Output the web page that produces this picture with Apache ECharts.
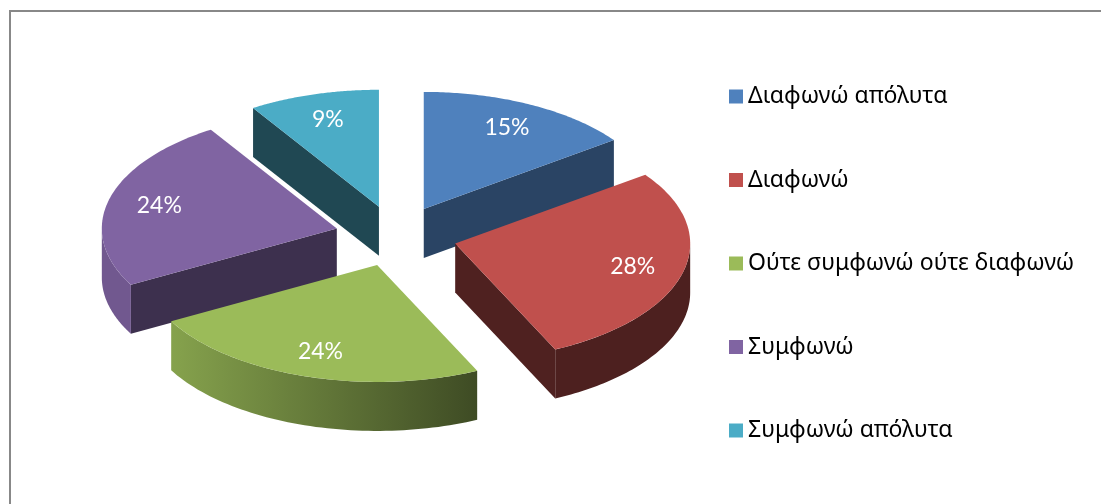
<!DOCTYPE html>
<html>
<head>
<meta charset="utf-8">
<script src="https://cdn.jsdelivr.net/npm/echarts@6/dist/echarts.min.js"></script>
<style>
    html, body { margin: 0; padding: 0; background: #fff; }
    #chart { width: 1101px; height: 504px; }
</style>
</head>
<body>
<div id="chart"></div>
<script>
// ============================
// 1. 数据
// ============================
const categories = ['Διαφωνώ απόλυτα', 'Διαφωνώ', 'Ούτε συμφωνώ ούτε διαφωνώ', 'Συμφωνώ', 'Συμφωνώ απόλυτα'];
const values = [15, 28, 24, 24, 9];
const colors = ['#4F81BD', '#C0504D', '#9BBB59', '#8064A2', '#4BACC6'];
// 切面的暗度
const faceShade = [0.53, 0.41, 0.45, 0.48, 0.42];

// ============================
// 2. 3D 饼图布局
// ============================
const cx = 396, cy = 236;      // 椭圆中心
const rx = 235, ry = 117;      // 顶面半径
const depth = 49;              // 厚度
const explode = 0.26;          // 分离程度
const labelPos = 0.78;
const labelFont = '23px Lato, "Open Sans", sans-serif';

function shade(hex, f) {
    const n = parseInt(hex.slice(1), 16);
    const r = Math.round(((n >> 16) & 255) * f);
    const g = Math.round(((n >> 8) & 255) * f);
    const b = Math.round((n & 255) * f);
    return 'rgb(' + r + ',' + g + ',' + b + ')';
}

const total = values.reduce((a, b) => a + b, 0);
const slices = [];
let acc = 0;
values.forEach((v, i) => {
    const a0 = acc / total * Math.PI * 2;
    acc += v;
    const a1 = acc / total * Math.PI * 2;
    const mid = (a0 + a1) / 2;
    slices.push({
        a0, a1, mid,
        ox: cx + explode * rx * Math.sin(mid),
        oy: cy - explode * ry * Math.cos(mid)
    });
});
// 从后往前画
const order = slices.map((s, i) => i).sort((a, b) => Math.cos(slices[b].mid) - Math.cos(slices[a].mid));
order.forEach((idx, rank) => { slices[idx].rank = rank; });

function edgePoint(s, t, dy) {
    return [s.ox + rx * Math.sin(t), s.oy - ry * Math.cos(t) + dy];
}

function arc(s, from, to, dy, n) {
    const pts = [];
    for (let k = 0; k <= n; k++) {
        pts.push(edgePoint(s, from + (to - from) * k / n, dy));
    }
    return pts;
}

function renderSlice(i) {
    return function (params, api) {
        const s = slices[i];
        const base = s.rank * 10;
        const children = [];
        const apexTop = [s.ox, s.oy];
        const apexBot = [s.ox, s.oy + depth];
        const faceColor = shade(colors[i], faceShade[i]);

        // 切面
        [[s.a0, Math.sin(s.a0) < -1e-6], [s.a1, Math.sin(s.a1) > 1e-6]].forEach(([ang, visible]) => {
            if (!visible) return;
            children.push({
                type: 'polygon', z2: base,
                shape: { points: [apexTop, edgePoint(s, ang, 0), edgePoint(s, ang, depth), apexBot] },
                style: { fill: faceColor }
            });
        });

        // 外侧面
        const ws = Math.max(s.a0, Math.PI / 2);
        const we = Math.min(s.a1, Math.PI * 1.5);
        if (we > ws) {
            const top = arc(s, ws, we, 0, 60);
            const bot = arc(s, ws, we, depth, 60).reverse();
            children.push({
                type: 'polygon', z2: base + 1,
                shape: { points: top.concat(bot) },
                style: {
                    fill: new echarts.graphic.LinearGradient(cx - rx, 0, cx + rx * 0.35, 0, [
                        { offset: 0, color: shade(colors[i], 0.88) },
                        { offset: 1, color: shade(colors[i], 0.40) }
                    ], true)
                }
            });
        }

        // 顶面
        children.push({
            type: 'polygon', z2: base + 2,
            shape: { points: [apexTop].concat(arc(s, s.a0, s.a1, 0, 80)) },
            style: { fill: colors[i] }
        });

        // 标签
        children.push({
            type: 'text', z2: base + 3,
            x: s.ox + labelPos * rx * Math.sin(s.mid),
            y: s.oy - labelPos * ry * Math.cos(s.mid),
            style: {
                text: Math.round(values[i] / total * 100) + '%',
                fill: '#ffffff',
                font: labelFont,
                align: 'center',
                verticalAlign: 'middle'
            }
        });

        return { type: 'group', children };
    };
}

const chart = echarts.init(document.getElementById('chart'));
chart.setOption({
    animation: false,
    graphic: [{
        type: 'rect', silent: true,
        shape: { x: 10, y: 11, width: 1400, height: 800 },
        style: { fill: 'none', stroke: '#888888', lineWidth: 2 }
    }],
    legend: {
        orient: 'vertical',
        left: 729,
        top: 85,
        padding: 0,
        icon: 'rect',
        itemWidth: 14,
        itemHeight: 14,
        itemGap: 60.5,
        textStyle: { fontFamily: '"Noto Sans", sans-serif', fontSize: 23, lineHeight: 22, color: '#000' },
        data: categories
    },
    series: categories.map((name, i) => ({
        type: 'custom',
        name: name,
        coordinateSystem: 'none',
        silent: true,
        itemStyle: { color: colors[i] },
        data: [[values[i]]],
        renderItem: renderSlice(i)
    }))
});
</script>
</body>
</html>
